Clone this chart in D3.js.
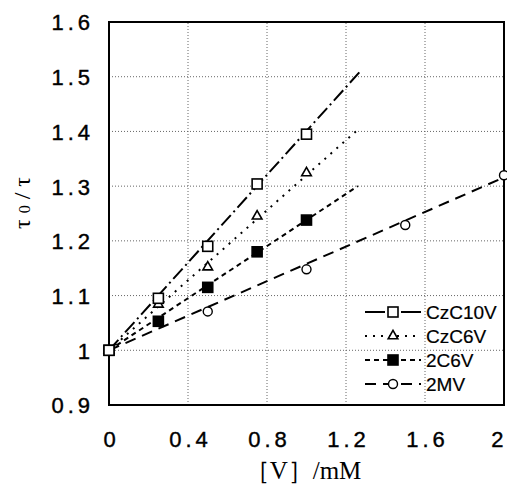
<!DOCTYPE html>
<html><head><meta charset="utf-8">
<script src="https://cdn.jsdelivr.net/npm/d3@7"></script>
<style>body{margin:0;background:#fff}svg{display:block}</style>
</head><body>
<script>
const xTicks = [0, 0.4, 0.8, 1.2, 1.6, 2];
const yTicks = [0.9, 1, 1.1, 1.2, 1.3, 1.4, 1.5, 1.6];
const seriesNames = ["CzC10V", "CzC6V", "2C6V", "2MV"];
const czc10vX = [0, 0.25, 0.5, 0.75, 1.0];
const czc10vY = [1.0, 1.095, 1.19, 1.304, 1.395];
const czc6vX = [0, 0.25, 0.5, 0.75, 1.0];
const czc6vY = [1.0, 1.084, 1.152, 1.245, 1.324];
const c6vX = [0, 0.25, 0.5, 0.75, 1.0];
const c6vY = [1.0, 1.053, 1.115, 1.18, 1.238];
const mvX = [0, 0.5, 1.0, 1.5, 2.0];
const mvY = [1.0, 1.071, 1.148, 1.229, 1.32];
// fitted line endpoints
const fitEndX = [1.27, 1.25, 1.26, 2.0];
const fitEndY = [1.509, 1.40, 1.30, 1.316];

const W = 507, H = 486;
const m = {l:109, t:22, r:3, b:81};
const svg = d3.select("body").append("svg").attr("width", W).attr("height", H);
const x = d3.scaleLinear().domain([0, 2]).range([m.l, W - m.r]);
const y = d3.scaleLinear().domain([0.9, 1.6]).range([H - m.b, m.t]);

const grid = svg.append("g").attr("stroke", "#666").attr("stroke-width", 1).attr("stroke-dasharray", "1,2");
xTicks.filter(d => d > 0 && d < 2).forEach(d => grid.append("line").attr("x1", x(d)).attr("x2", x(d)).attr("y1", y(0.9)).attr("y2", y(1.6)));
yTicks.filter(d => d > 0.9 && d < 1.6).forEach(d => grid.append("line").attr("y1", y(d)).attr("y2", y(d)).attr("x1", x(0)).attr("x2", x(2)));

svg.append("rect").attr("x", x(0)).attr("y", y(1.6)).attr("width", x(2) - x(0)).attr("height", y(0.9) - y(1.6))
  .attr("fill", "none").attr("stroke", "#000").attr("stroke-width", 2);

const xAxis = d3.axisBottom(x).tickValues(xTicks).tickSize(0).tickPadding(0).tickFormat(d => d3.format("")(d));
const gx = svg.append("g").attr("transform", `translate(0,${y(0.9) + 42})`).call(xAxis);
gx.select(".domain").remove();
gx.selectAll("text").attr("dy", 0).attr("y", 0).attr("font-family", "Liberation Sans, Arial, sans-serif").attr("font-size", 22).attr("letter-spacing", "4px").attr("fill", "#000").attr("stroke", "#000").attr("stroke-width", 0.4)
  .attr("text-anchor", d => d === 2 ? "end" : "middle").attr("x", d => d === 2 ? 3 : 2);

const yAxis = d3.axisLeft(y).tickValues(yTicks).tickSize(0).tickPadding(0).tickFormat(d => d3.format("")(d));
const gy = svg.append("g").attr("transform", `translate(${x(0) - 15},0)`).call(yAxis);
gy.select(".domain").remove();
gy.selectAll("text").attr("dy", "0.36em").attr("font-family", "Liberation Sans, Arial, sans-serif").attr("font-size", 22).attr("letter-spacing", "4px").attr("fill", "#000").attr("stroke", "#000").attr("stroke-width", 0.4);

const styles = [
  {dash: "14,4,2,4", sym: "square", fill: "#fff"},
  {dash: "2,6", sym: "triangle", fill: "#fff"},
  {dash: "5,4", sym: "square", fill: "#000"},
  {dash: "11,7", sym: "circle", fill: "#fff"}
];
const xs = [czc10vX, czc6vX, c6vX, mvX];
const ys = [czc10vY, czc6vY, c6vY, mvY];

function marker(g, s, cx, cy) {
  if (s.sym === "square") g.append("rect").attr("x", cx - 5).attr("y", cy - 5).attr("width", 10).attr("height", 10).attr("fill", s.fill).attr("stroke", "#000").attr("stroke-width", 1.6);
  else if (s.sym === "triangle") g.append("path").attr("d", d3.symbol(d3.symbolTriangle, 40)()).attr("transform", `translate(${cx},${cy})`).attr("fill", "#fff").attr("stroke", "#000").attr("stroke-width", 1.6);
  else g.append("circle").attr("cx", cx).attr("cy", cy).attr("r", 4.5).attr("fill", "#fff").attr("stroke", "#000").attr("stroke-width", 1.4);
}

const lines = svg.append("g");
styles.forEach((s, i) => {
  lines.append("line").attr("x1", x(0)).attr("y1", y(1)).attr("x2", x(fitEndX[i])).attr("y2", y(fitEndY[i]))
    .attr("stroke", "#000").attr("stroke-width", 2).attr("stroke-dasharray", s.dash);
});
const marks = svg.append("g");
[3, 2, 1, 0].forEach(i => {
  xs[i].forEach((xv, j) => marker(marks, styles[i], x(xv), y(ys[i][j])));
});

// legend
const leg = svg.append("g");
const legY = [312, 336, 360, 384];
styles.forEach((s, i) => {
  leg.append("line").attr("x1", 365).attr("x2", 421).attr("y1", legY[i]).attr("y2", legY[i]).attr("stroke", "#000").attr("stroke-width", 2).attr("stroke-dasharray", i === 0 ? "20,16,20" : s.dash);
  marker(leg, s, 393, legY[i]);
  leg.append("text").attr("x", 426).attr("y", legY[i]).attr("dy", "0.36em").attr("font-family", "Liberation Sans, Arial, sans-serif").attr("font-size", 19).attr("fill", "#000").attr("stroke", "#000").attr("stroke-width", 0.2).text(seriesNames[i]);
});

// axis titles
svg.append("text").attr("transform", `translate(30,200) rotate(-90)`).attr("text-anchor", "middle")
  .attr("font-family", "Liberation Serif, DejaVu Serif, serif").attr("font-size", 24).attr("letter-spacing", "6px").attr("fill", "#000")
  .html('τ<tspan font-size="16">0</tspan>/τ');
svg.append("text").attr("x", 303).attr("y", 479).attr("text-anchor", "middle")
  .attr("font-family", "Liberation Serif, DejaVu Serif, serif").attr("font-size", 25).attr("fill", "#000")
  .text("［V］/mM");
</script>
</body></html>
